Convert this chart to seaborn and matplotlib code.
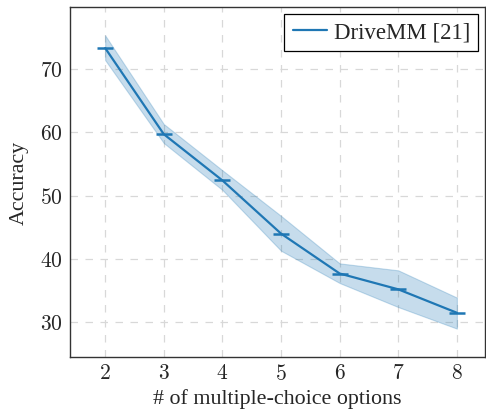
import numpy as np
import pandas as pd
import matplotlib
matplotlib.use("Agg")
import matplotlib.pyplot as plt
import seaborn as sns

# number of answer options vs accuracy (mean with min/max band)
options = [2, 3, 4, 5, 6, 7, 8]
acc_mean = [73.3, 59.7, 52.4, 44.0, 37.7, 35.2, 31.5]
acc_low = [71.4, 58.3, 50.9, 41.3, 36.2, 32.4, 29.0]
acc_high = [75.3, 61.3, 54.0, 46.8, 39.3, 38.2, 33.9]

df = pd.DataFrame({"options": options, "accuracy": acc_mean})

sns.set_style("whitegrid")
plt.rcParams["font.family"] = ["Liberation Serif", "DejaVu Serif"]
plt.rcParams["mathtext.fontset"] = "cm"

blue = "#1f77b4"

fig = plt.figure(figsize=(4.86, 4.14), dpi=100)
ax = fig.add_axes([0.144, 0.135, 0.854, 0.846])

ax.fill_between(options, acc_low, acc_high, color=blue, alpha=0.25,
                edgecolor=blue, linewidth=0.8)
sns.lineplot(data=df, x="options", y="accuracy", ax=ax, color=blue,
             linewidth=1.6, marker="_", markersize=12, markeredgewidth=1.8,
             markeredgecolor=blue, label="DriveMM [21]")

ax.set_xlim(1.4, 8.48)
ax.set_ylim(24.5, 79.8)
ax.set_xticks(options)
ax.set_xticklabels([f"${v}$" for v in options])
ax.set_yticks([30, 40, 50, 60, 70])
ax.set_yticklabels([f"${v}$" for v in [30, 40, 50, 60, 70]])
ax.tick_params(labelsize=15.5, length=4, direction="in", color="#444444", pad=5)

ax.grid(True, linestyle=(0, (6, 6)), color="#d8d8d8", linewidth=0.9)
for s in ax.spines.values():
    s.set_color("#333333")
    s.set_linewidth(1.0)

ax.set_xlabel("# of multiple-choice options", fontsize=15.8, labelpad=3)
ax.set_ylabel("Accuracy", fontsize=15.8, labelpad=8)

leg = ax.legend(loc="upper right", fontsize=16.5, frameon=True, fancybox=False,
                edgecolor="black", framealpha=1, handlelength=1.5,
                borderaxespad=0.3, borderpad=0.35, handletextpad=0.3)
leg.get_frame().set_linewidth(0.9)
for h in leg.legend_handles:
    h.set_marker("")

plt.savefig("out.png", dpi=100)
